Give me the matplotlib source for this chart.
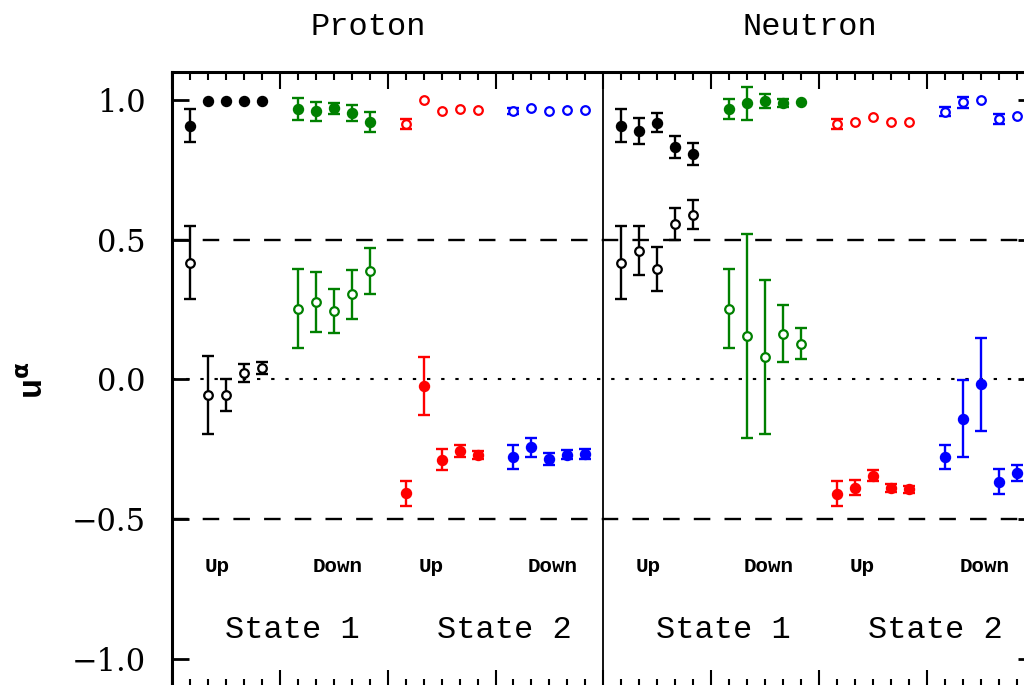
import numpy as np
import matplotlib
matplotlib.use('Agg')
import matplotlib.pyplot as plt
from matplotlib.ticker import MultipleLocator

# x slots inside each panel: four groups of five, one empty slot between groups
up1_x = [1, 2, 3, 4, 5]
down1_x = [7, 8, 9, 10, 11]
up2_x = [13, 14, 15, 16, 17]
down2_x = [19, 20, 21, 22, 23]
NEUTRON_SHIFT = 24

# Proton, state 1 up (black)
p_up1_fill = [0.908, 0.998, 0.998, 0.998, 0.998]
p_up1_fill_err = [0.060, 0.0, 0.0, 0.0, 0.0]
p_up1_open = [0.418, -0.055, -0.055, 0.024, 0.042]
p_up1_open_err = [0.130, 0.139, 0.058, 0.032, 0.022]
# Proton, state 1 down (green)
p_down1_fill = [0.968, 0.960, 0.970, 0.953, 0.921]
p_down1_fill_err = [0.038, 0.034, 0.020, 0.030, 0.037]
p_down1_open = [0.253, 0.277, 0.244, 0.304, 0.389]
p_down1_open_err = [0.142, 0.108, 0.078, 0.087, 0.082]
# Proton, state 2 up (red)
p_up2_fill = [-0.407, -0.022, -0.287, -0.257, -0.271]
p_up2_fill_err = [0.044, 0.104, 0.037, 0.022, 0.015]
p_up2_open = [0.914, 0.999, 0.959, 0.966, 0.963]
p_up2_open_err = [0.019, 0.0, 0.0, 0.0, 0.0]
# Proton, state 2 down (blue)
p_down2_fill = [-0.278, -0.243, -0.285, -0.269, -0.267]
p_down2_fill_err = [0.043, 0.033, 0.022, 0.016, 0.017]
p_down2_open = [0.960, 0.970, 0.959, 0.963, 0.964]
p_down2_open_err = [0.010, 0.0, 0.0, 0.0, 0.0]

# Neutron, state 1 up (black)
n_up1_fill = [0.908, 0.888, 0.919, 0.832, 0.806]
n_up1_fill_err = [0.060, 0.046, 0.034, 0.040, 0.039]
n_up1_open = [0.418, 0.461, 0.395, 0.556, 0.590]
n_up1_open_err = [0.130, 0.088, 0.078, 0.057, 0.052]
# Neutron, state 1 down (green)
n_down1_fill = [0.968, 0.988, 0.995, 0.988, 0.991]
n_down1_fill_err = [0.037, 0.060, 0.025, 0.015, 0.0]
n_down1_open = [0.253, 0.155, 0.081, 0.164, 0.128]
n_down1_open_err = [0.142, 0.364, 0.276, 0.101, 0.055]
# Neutron, state 2 up (red)
n_up2_fill = [-0.409, -0.387, -0.345, -0.387, -0.393]
n_up2_fill_err = [0.044, 0.028, 0.020, 0.014, 0.012]
n_up2_open = [0.914, 0.922, 0.939, 0.922, 0.920]
n_up2_open_err = [0.017, 0.0, 0.0, 0.0, 0.0]
# Neutron, state 2 down (blue)
n_down2_fill = [-0.278, -0.140, -0.018, -0.366, -0.335]
n_down2_fill_err = [0.043, 0.137, 0.168, 0.044, 0.028]
n_down2_open = [0.958, 0.991, 0.999, 0.932, 0.943]
n_down2_open_err = [0.015, 0.020, 0.0, 0.018, 0.0]

panel_titles = ['Proton', 'Neutron']
spin_labels = ['Up', 'Down', 'Up', 'Down']
spin_label_x = [2.5, 9.2, 14.4, 21.2]
state_labels = ['State 1', 'State 2']
state_label_x = [6.7, 18.5]
title_x = [10.9, 35.5]

MONO = 'Liberation Mono'


def draw_series(ax, xs, ys, errs, color, filled):
    xs = np.asarray(xs, dtype=float)
    ys = np.asarray(ys, dtype=float)
    errs = np.asarray(errs, dtype=float)
    has_err = errs > 0
    if has_err.any():
        ax.errorbar(xs[has_err], ys[has_err], yerr=errs[has_err], fmt='none',
                    ecolor=color, elinewidth=1.7, capsize=4.2, capthick=1.7, zorder=3)
    if filled:
        ax.plot(xs, ys, 'o', ms=7.2, color=color, mec=color, zorder=4)
    else:
        ax.plot(xs, ys, 'o', ms=6.2, mfc='white', mec=color, mew=1.6, zorder=4)


fig = plt.figure(figsize=(10.24, 6.85), dpi=100)
ax = fig.add_axes([0.168, -0.0028, 0.8424, 0.8977])
ax.set_xlim(0, 48)
ax.set_ylim(-1.1, 1.1)

groups = [
    (up1_x, 'black', p_up1_fill, p_up1_fill_err, p_up1_open, p_up1_open_err,
     n_up1_fill, n_up1_fill_err, n_up1_open, n_up1_open_err),
    (down1_x, 'green', p_down1_fill, p_down1_fill_err, p_down1_open, p_down1_open_err,
     n_down1_fill, n_down1_fill_err, n_down1_open, n_down1_open_err),
    (up2_x, 'red', p_up2_fill, p_up2_fill_err, p_up2_open, p_up2_open_err,
     n_up2_fill, n_up2_fill_err, n_up2_open, n_up2_open_err),
    (down2_x, 'blue', p_down2_fill, p_down2_fill_err, p_down2_open, p_down2_open_err,
     n_down2_fill, n_down2_fill_err, n_down2_open, n_down2_open_err),
]

for xs, color, pf, pfe, po, poe, nf, nfe, no, noe in groups:
    nx = [x + NEUTRON_SHIFT for x in xs]
    draw_series(ax, xs, pf, pfe, color, True)
    draw_series(ax, xs, po, poe, color, False)
    draw_series(ax, nx, nf, nfe, color, True)
    draw_series(ax, nx, no, noe, color, False)

# reference lines
ax.axhline(0.5, color='black', lw=1.7, ls=(0, (7, 6)), zorder=1)
ax.axhline(-0.5, color='black', lw=1.7, ls=(0, (7, 6)), zorder=1)
ax.axhline(0.0, color='black', lw=1.5, ls=(0, (1.6, 5.2)), zorder=1)
ax.axvline(24, color='black', lw=1.3, zorder=2)

# labels under the data
for shift in (0, NEUTRON_SHIFT):
    for lab, x in zip(spin_labels, spin_label_x):
        ax.text(x + shift, -0.67, lab, family=MONO, fontweight='bold',
                fontsize=15, ha='center', va='center')
    for lab, x in zip(state_labels, state_label_x):
        ax.text(x + shift, -0.895, lab, family=MONO, fontsize=23,
                ha='center', va='center')

for title, x in zip(panel_titles, title_x):
    ax.text(x, 1.26, title, family=MONO, fontsize=23, ha='center', va='center')

fig.text(0.034, 0.445, r'u$^{\mathbf{\alpha}}$', family=MONO, fontweight='bold',
         fontsize=24, rotation=90, ha='center', va='center')

# axes and ticks
for side in ('left', 'top', 'right', 'bottom'):
    ax.spines[side].set_linewidth(2.2)

ax.set_yticks([-1.0, -0.5, 0.0, 0.5, 1.0])
ax.set_yticklabels(['\u22121.0', '\u22120.5', '0.0', '0.5', '1.0'],
                   family='DejaVu Serif', fontsize=22)
ax.xaxis.set_major_locator(MultipleLocator(6))
ax.xaxis.set_minor_locator(MultipleLocator(1))
ax.tick_params(axis='y', which='major', direction='in', length=12, width=2.0,
               left=True, right=True, pad=19)
ax.tick_params(axis='x', which='major', direction='in', length=12, width=1.5,
               top=True, bottom=True, labelbottom=False)
ax.tick_params(axis='x', which='minor', direction='in', length=6, width=1.5,
               top=True, bottom=True)

fig.savefig('out.png', dpi=100)
